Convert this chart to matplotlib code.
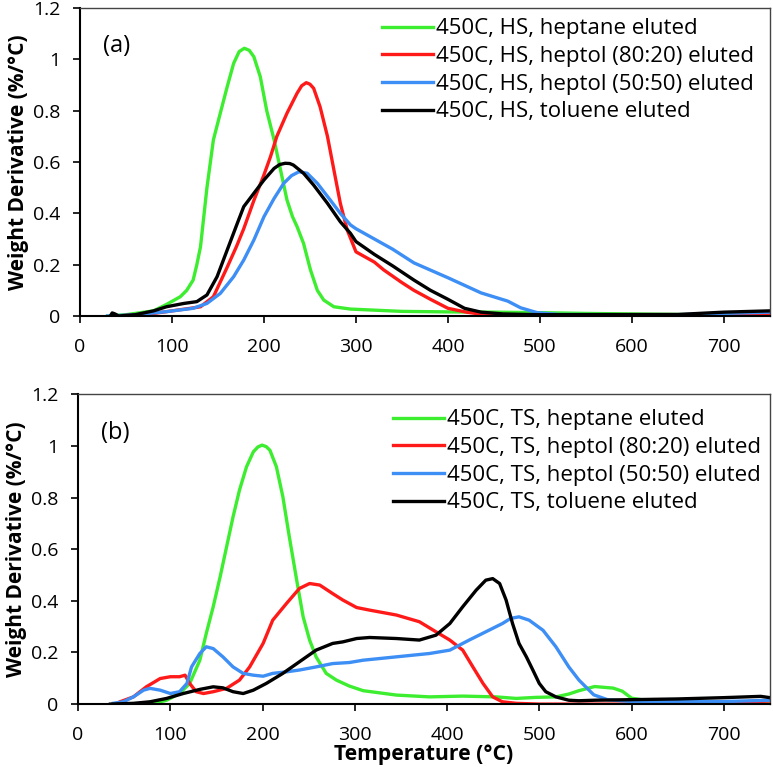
import numpy as np
import matplotlib.pyplot as plt

plt.rcParams['font.family'] = ['Open Sans', 'DejaVu Sans']

# ---- panel (a): HS samples ----
a_green_T = [30, 50, 80, 94, 109, 116, 123, 127, 131, 138, 145, 152.5, 160, 167, 173, 178.6, 184, 189, 196, 203,
             211, 218, 225, 231, 236, 243, 250.5, 258, 265, 276, 294, 350, 400, 450, 500, 550, 600, 650, 700, 750]
a_green_v = [0, 0.005, 0.02, 0.045, 0.075, 0.10, 0.14, 0.20, 0.27, 0.50, 0.686, 0.79, 0.893, 0.984, 1.03, 1.043,
             1.035, 1.01, 0.932, 0.80, 0.686, 0.569, 0.452, 0.387, 0.348, 0.283, 0.18, 0.10, 0.062, 0.036, 0.027,
             0.018, 0.016, 0.015, 0.013, 0.01, 0.008, 0.006, 0.004, 0.002]

a_red_T = [40, 60, 80, 100, 120, 131, 145, 160, 170, 178, 189, 200, 207, 214, 225, 236, 241, 246, 250, 254, 261,
           269, 276, 283, 290.5, 300, 320, 330, 340, 350, 363, 381, 400, 420, 440, 460, 500, 600, 700, 750]
a_red_v = [0, 0.005, 0.01, 0.02, 0.03, 0.036, 0.075, 0.19, 0.27, 0.34, 0.45, 0.55, 0.62, 0.70, 0.79, 0.868, 0.897,
           0.909, 0.903, 0.887, 0.815, 0.70, 0.569, 0.439, 0.335, 0.25, 0.21, 0.18, 0.155, 0.13, 0.10, 0.065,
           0.03, 0.015, 0.005, 0.002, 0, 0, 0.004, 0.01]

a_blue_T = [30, 60, 94, 123, 138, 152.5, 167, 178, 189, 200, 211, 221.5, 230, 238, 247, 258, 272, 283, 294, 300,
            320, 340, 363, 400, 436, 465, 479, 497, 520, 600, 650, 700, 750]
a_blue_v = [0, 0.005, 0.017, 0.03, 0.049, 0.088, 0.153, 0.218, 0.296, 0.387, 0.458, 0.517, 0.547, 0.562, 0.556,
            0.517, 0.452, 0.40, 0.355, 0.34, 0.30, 0.26, 0.207, 0.149, 0.09, 0.058, 0.032, 0.013, 0.006, 0.005,
            0.005, 0.01, 0.015]

a_black_T = [33, 35, 38, 42, 60, 80, 94, 113, 127, 138, 149, 160, 171, 178, 189, 200, 211, 217, 223, 228, 232, 243,
             254, 269, 283, 294, 300, 320, 340, 363, 381, 400, 418, 436, 460, 500, 650, 700, 750]
a_black_v = [0, 0.012, 0.008, 0, 0.005, 0.02, 0.036, 0.049, 0.056, 0.082, 0.153, 0.257, 0.361, 0.426, 0.478,
             0.53, 0.575, 0.59, 0.595, 0.594, 0.588, 0.556, 0.51, 0.439, 0.367, 0.322, 0.29, 0.24, 0.195, 0.14,
             0.10, 0.065, 0.03, 0.015, 0.008, 0.005, 0.006, 0.015, 0.02]

# ---- panel (b): TS samples ----
b_green_T = [40, 80, 96, 110, 121, 132, 139, 146.5, 154, 161, 168, 175, 182.6, 190, 195, 199.5, 204, 208, 215, 222,
             229, 237, 244, 251, 258, 269, 280, 294, 309, 345, 381, 417, 453, 475, 496, 518, 532, 543, 560, 580,
             590, 600, 620, 650, 700, 750]
b_green_v = [0, 0, 0.015, 0.041, 0.08, 0.17, 0.274, 0.377, 0.493, 0.609, 0.725, 0.829, 0.919, 0.977, 0.996, 1.003,
             0.997, 0.983, 0.919, 0.803, 0.648, 0.48, 0.338, 0.248, 0.183, 0.119, 0.093, 0.07, 0.052, 0.035,
             0.028, 0.031, 0.028, 0.022, 0.026, 0.028, 0.039, 0.052, 0.068, 0.062, 0.05, 0.023, 0.012, 0.008,
             0.005, 0.0]

b_red_T = [40, 45.5, 60, 74, 89, 100, 110, 116, 121, 128, 136, 146.5, 161, 175, 186, 200.6, 211, 226, 240, 251,
           262, 276, 287, 302, 316, 345, 370, 388, 403, 417, 428, 439, 449.5, 460, 475, 500, 650, 700, 750]
b_red_v = [0, 0.009, 0.028, 0.067, 0.099, 0.106, 0.106, 0.112, 0.08, 0.048, 0.041, 0.048, 0.061, 0.093, 0.144,
           0.235, 0.325, 0.39, 0.448, 0.467, 0.461, 0.428, 0.403, 0.374, 0.364, 0.345, 0.319, 0.28, 0.248,
           0.209, 0.144, 0.08, 0.028, 0.009, 0.003, 0, 0, 0.005, 0.012]

b_blue_T = [38, 49, 60, 71, 78, 89, 100, 110, 118, 123, 132, 139, 146.5, 157, 168, 179, 190, 200.6, 211, 226, 240,
            258, 276, 294, 309, 345, 381, 403, 424, 442, 460, 469, 478, 489, 504, 518, 532, 543, 559, 574, 600,
            700, 750]
b_blue_v = [0.003, 0.009, 0.028, 0.054, 0.061, 0.054, 0.041, 0.048, 0.08, 0.144, 0.196, 0.222, 0.215, 0.183,
            0.144, 0.119, 0.112, 0.108, 0.119, 0.125, 0.132, 0.144, 0.157, 0.161, 0.17, 0.183, 0.196, 0.209,
            0.248, 0.28, 0.312, 0.332, 0.338, 0.325, 0.286, 0.222, 0.144, 0.093, 0.036, 0.017, 0.01, 0.01, 0.015]

b_black_T = [35, 60, 78, 96, 114, 132, 146.5, 157, 168, 179, 190, 204, 222, 240, 258, 276, 287, 302, 316, 345,
             370, 388, 403, 417, 431.5, 442, 449.5, 457, 464, 471, 478, 486, 493, 500, 507, 518, 532, 543, 560,
             650, 700, 740, 750]
b_black_v = [0, 0.003, 0.009, 0.022, 0.041, 0.057, 0.067, 0.063, 0.048, 0.041, 0.054, 0.08, 0.119, 0.164, 0.209,
             0.235, 0.241, 0.254, 0.258, 0.254, 0.248, 0.267, 0.312, 0.377, 0.441, 0.48, 0.486, 0.467, 0.403,
             0.312, 0.235, 0.183, 0.132, 0.08, 0.048, 0.028, 0.015, 0.013, 0.015, 0.02, 0.025, 0.03, 0.025]

names = ['heptane eluted', 'heptol (80:20) eluted', 'heptol (50:50) eluted', 'toluene eluted']
colors = ['#3ded2f', '#ff1a1a', '#3d8ef5', 'black']

fig = plt.figure(figsize=(7.73, 7.67), dpi=100)
ax1 = fig.add_axes([0.1035, 0.588, 0.8925, 0.4016])
ax2 = fig.add_axes([0.101, 0.082, 0.895, 0.404])

panels = [
    (ax1, 'HS', '(a)', (0.977, 0.966),
     [(a_green_T, a_green_v), (a_red_T, a_red_v), (a_blue_T, a_blue_v), (a_black_T, a_black_v)]),
    (ax2, 'TS', '(b)', (0.987, 0.951),
     [(b_green_T, b_green_v), (b_red_T, b_red_v), (b_blue_T, b_blue_v), (b_black_T, b_black_v)]),
]

for ax, tag, lab, anchor, series in panels:
    for (T, v), n, c in zip(series, names, colors):
        ax.plot(T, v, color=c, lw=2.4, solid_joinstyle='round', label='450C, %s, %s' % (tag, n))
    ax.set_xlim(0, 750)
    ax.set_ylim(0, 1.2)
    ax.set_xticks(np.arange(0, 800, 100))
    ax.set_yticks(np.arange(0, 1.21, 0.2))
    ax.set_yticklabels(['0', '0.2', '0.4', '0.6', '0.8', '1', '1.2'])
    ax.tick_params(direction='out', length=5, width=1.2, labelsize=14)
    ax.tick_params(axis='y', pad=9)
    ax.tick_params(axis='x', pad=11)
    for s in ['left', 'bottom']:
        ax.spines[s].set_linewidth(1.5)
    for s in ['top', 'right']:
        ax.spines[s].set_color('#444444')
        ax.spines[s].set_linewidth(1.0)
    ax.set_ylabel('Weight Derivative (%/°C)', fontsize=15, fontweight='bold', labelpad=3)
    ax.text(25, 1.05, lab, fontsize=17, va='center')
    ax.legend(loc='upper right', bbox_to_anchor=anchor, frameon=False, fontsize=16, handlelength=2.3,
              handletextpad=0.12, labelspacing=0.3, borderaxespad=0, borderpad=0)

ax2.set_xlabel('Temperature (°C)', fontsize=15.2, fontweight='bold', labelpad=0)

fig.savefig('out.png', dpi=100)
